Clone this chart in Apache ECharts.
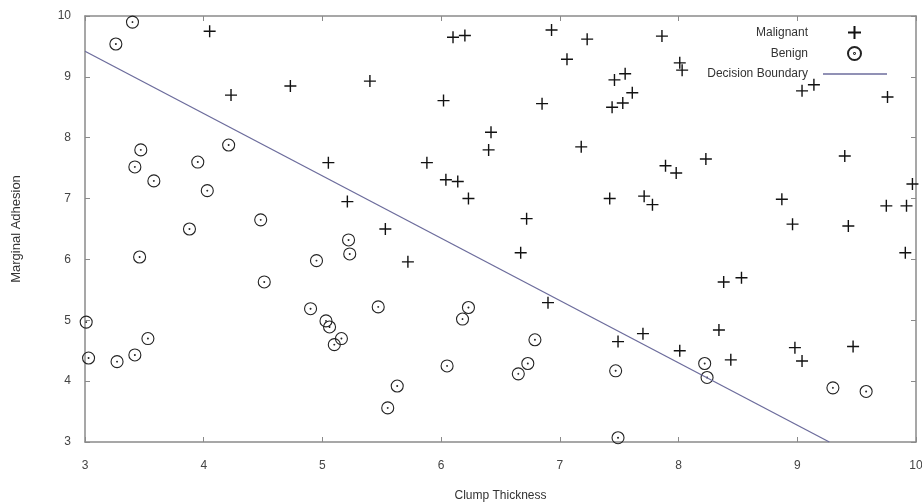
<!DOCTYPE html>
<html>
<head>
<meta charset="utf-8">
<script src="https://cdn.jsdelivr.net/npm/echarts@6/dist/echarts.min.js"></script>
<style>html,body{margin:0;padding:0;background:#fff}#c{width:922px;height:502px}</style>
</head>
<body>
<div id="c"></div>
<script>
const malignant = [
  [4.05,9.75],[4.23,8.70],[4.73,8.85],[6.10,9.65],[6.20,9.68],[6.93,9.77],[7.23,9.62],[7.06,9.29],
  [7.46,8.95],[7.55,9.05],[7.61,8.74],[7.53,8.57],[7.44,8.50],[7.86,9.67],[8.01,9.23],[8.03,9.11],
  [5.40,8.93],[6.02,8.61],[6.85,8.56],[6.42,8.09],[6.40,7.80],[7.18,7.85],[5.05,7.59],[5.88,7.59],
  [6.04,7.31],[6.14,7.28],[6.23,7.00],[7.42,7.00],[5.21,6.95],[6.72,6.67],[5.53,6.50],[6.67,6.11],
  [5.72,5.96],[6.90,5.29],[7.49,4.65],[9.04,8.77],[9.14,8.87],[9.76,8.67],[9.40,7.70],[9.97,7.24],
  [9.92,6.88],[9.75,6.88],[9.91,6.11],[9.43,6.55],[8.96,6.58],[8.87,6.99],[8.23,7.65],[7.89,7.54],
  [7.98,7.42],[7.71,7.04],[7.78,6.90],[8.38,5.63],[8.53,5.70],[7.70,4.78],[8.01,4.50],[8.34,4.84],
  [8.44,4.35],[8.98,4.55],[9.04,4.33],[9.47,4.57]
];
const benign = [
  [3.40,9.90],[3.26,9.54],[3.47,7.80],[3.42,7.52],[3.58,7.29],[3.95,7.60],[4.03,7.13],[4.21,7.88],
  [3.88,6.50],[4.48,6.65],[3.46,6.04],[4.51,5.63],[4.90,5.19],[4.95,5.98],[3.01,4.97],[3.03,4.38],
  [3.27,4.32],[3.42,4.43],[3.53,4.70],[5.23,6.09],[5.22,6.32],[5.03,4.99],[5.06,4.89],[5.16,4.70],
  [5.10,4.60],[5.47,5.22],[5.63,3.92],[5.55,3.56],[6.05,4.25],[6.23,5.21],[6.18,5.02],[6.79,4.68],
  [6.73,4.29],[6.65,4.12],[7.47,4.17],[7.49,3.07],[8.22,4.29],[8.24,4.06],[9.30,3.89],[9.58,3.83]
];
const boundary = [[3, 9.42], [9.27, 3]];
const xTicks = [3, 4, 5, 6, 7, 8, 9, 10];
const yTicks = [3, 4, 5, 6, 7, 8, 9, 10];

const plusPath = 'path://M0,10L20,10M10,0L10,20';
const circlePath = 'path://M0,10a10,10 0 1,0 20,0a10,10 0 1,0 -20,0ZM9.3,10a0.7,0.7 0 1,0 1.4,0a0.7,0.7 0 1,0 -1.4,0Z';
const axisColor = '#8a8a8a';
const lineColor = '#6c6c9c';
const font = 'Liberation Sans, Arial, sans-serif';

const baseAxis = {
  min: 3, max: 10, interval: 1,
  axisLine: {show: true, onZero: false, lineStyle: {color: axisColor, width: 1.5}},
  axisTick: {show: true, inside: true, length: 5, lineStyle: {color: axisColor, width: 1}},
  splitLine: {show: false}
};

const chart = echarts.init(document.getElementById('c'));
chart.setOption({
  animation: false,
  backgroundColor: '#fff',
  grid: {left: 85, right: 6, top: 16, bottom: 60, containLabel: false, outerBoundsMode: 'none'},
  legend: [{
    data: ['Malignant', 'Benign'],
    orient: 'vertical', align: 'right', right: 60, top: 25, padding: 0,
    itemWidth: 13, itemHeight: 13, itemGap: 6,
    textStyle: {fontFamily: font, fontSize: 12, color: '#333', padding: [0, 35, 0, 0]}
  }, {
    data: [{name: 'Decision Boundary', icon: 'rect'}],
    orient: 'vertical', align: 'right', right: 35, top: 68, padding: 0,
    itemWidth: 64, itemHeight: 1.5,
    itemStyle: {color: lineColor},
    textStyle: {fontFamily: font, fontSize: 12, color: '#333', padding: [0, 10, 0, 0]}
  }],
  xAxis: [
    Object.assign({}, baseAxis, {
      type: 'value', position: 'bottom',
      name: 'Clump Thickness', nameLocation: 'middle', nameGap: 48,
      nameTextStyle: {fontFamily: font, fontSize: 12, color: '#333'},
      axisLabel: {fontFamily: font, fontSize: 12, color: '#444', margin: 18,
        formatter: v => xTicks.includes(v) ? String(v) : ''}
    }),
    Object.assign({}, baseAxis, {type: 'value', position: 'top', axisLabel: {show: false}})
  ],
  yAxis: [
    Object.assign({}, baseAxis, {
      type: 'value', position: 'left',
      name: 'Marginal Adhesion', nameLocation: 'middle', nameGap: 62, nameRotate: 90,
      nameTextStyle: {fontFamily: font, fontSize: 13, color: '#333'},
      axisLabel: {fontFamily: font, fontSize: 12, color: '#444', margin: 14,
        formatter: v => yTicks.includes(v) ? String(v) : ''}
    }),
    Object.assign({}, baseAxis, {type: 'value', position: 'right', axisLabel: {show: false}})
  ],
  series: [
    {
      name: 'Malignant', type: 'scatter', data: malignant,
      symbol: plusPath, symbolSize: 12, symbolKeepAspect: true,
      itemStyle: {color: 'rgba(0,0,0,0)', borderColor: '#111', borderWidth: 1.4, opacity: 1}
    },
    {
      name: 'Benign', type: 'scatter', data: benign,
      symbol: circlePath, symbolSize: 12, symbolKeepAspect: true,
      itemStyle: {color: 'rgba(0,0,0,0)', borderColor: '#222', borderWidth: 1.1, opacity: 1}
    },
    {
      name: 'Decision Boundary', type: 'line', data: boundary,
      symbol: 'none', showSymbol: false,
      lineStyle: {color: lineColor, width: 1.3},
      itemStyle: {color: lineColor}
    }
  ]
});
</script>
</body>
</html>
